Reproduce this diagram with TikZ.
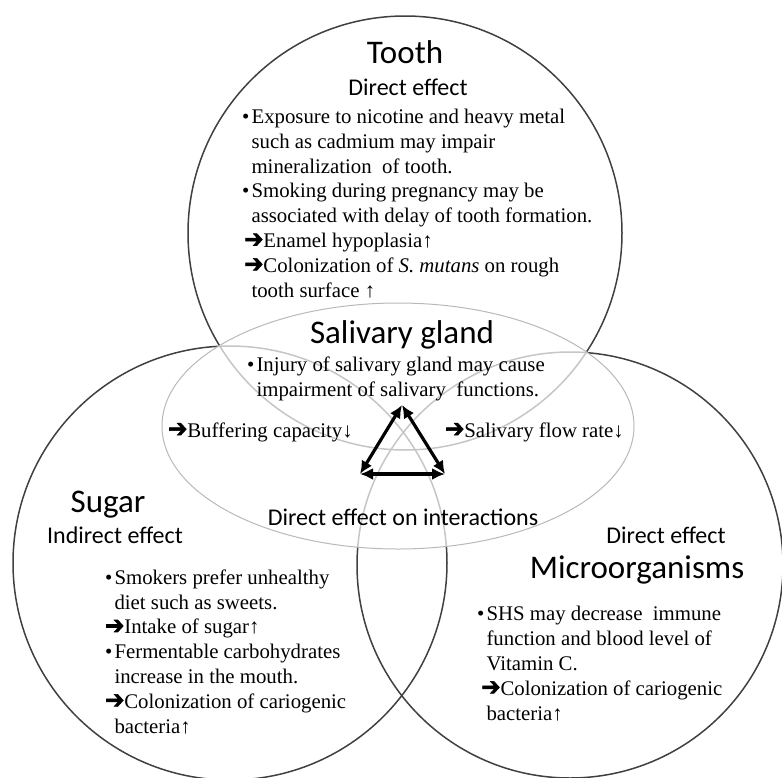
\documentclass[tikz,border=0pt]{standalone}
\usepackage{fontspec}
\setmainfont{Liberation Serif}
\newfontfamily\calibri{Carlito}
\newfontfamily\dingfont{DejaVu Sans}[FakeBold=2.5]
\usetikzlibrary{arrows.meta}
\newcommand{\thenarrow}{\scalebox{1.1}[1.2]{\dingfont ➔}}
\newcommand{\bulletitem}{\makebox[0.45em][l]{\textbullet}}
\newcommand{\contline}{\hspace*{0.45em}}

\begin{document}
\begin{tikzpicture}[x=1pt,y=-1pt,
    circ/.style={draw=black!75, line width=1.5pt},
    title/.style={font=\calibri\fontsize{33}{36}\selectfont, anchor=base, inner sep=0pt},
    effect/.style={font=\calibri\fontsize{24}{28}\selectfont, anchor=base, inner sep=0pt},
    body/.style={font=\fontsize{20.8}{24.8}\selectfont, anchor=base west, align=left, inner sep=0pt},
    link/.style={{Latex[length=13pt,width=12pt]}-{Latex[length=13pt,width=12pt]}, line width=3.2pt}]
    \useasboundingbox (0,0) rectangle (782,777);

    % Three circles
    \draw[circ] (405,233) circle (217pt);
    \draw[circ] (230,563) circle (217pt);
    \draw[circ] (570,565) circle (213pt);

    % Salivary gland on top of them
    \draw[gray!55, line width=1pt, fill=white, fill opacity=0.7] (398,426) ellipse (236pt and 123pt);

    % Tooth (base = last line)
    \node[title] (tooth) at (405,63) {Tooth};
    \node[effect] (toothfx) at (408,95) {Direct effect};
    \node[body] (toothtxt) at (242,297) {\bulletitem Exposure to nicotine and heavy metal\\
        \contline such as cadmium may impair\\
        \contline mineralization\ \ of tooth.\\
        \bulletitem Smoking during pregnancy may be\\
        \contline associated with delay of tooth formation.\\
        \hspace*{0.1em}\thenarrow Enamel hypoplasia↑\\
        \hspace*{0.1em}\thenarrow Colonization of \textit{S. mutans} on rough\\
        \contline tooth surface ↑};

    % Salivary gland
    \node[title] (gland) at (402,343) {Salivary gland};
    \node[body] (glandtxt) at (247,396) {\bulletitem Injury of salivary gland may cause\\
        \contline impairment of salivary\ \ functions.};
    \node[body] (buffer) at (168,437) {\thenarrow Buffering capacity↓};
    \node[body] (flow) at (445,437) {\thenarrow Salivary flow rate↓};
    \node[effect] (interact) at (403,525) {Direct effect on interactions};

    % Interactions
    \coordinate (apex) at (402,405);
    \coordinate (tipL) at (360,474);
    \coordinate (tipR) at (445,474);
    \draw[link] (apex) -- (tipL);
    \draw[link] (tipL) -- (tipR);
    \draw[link] (tipR) -- (apex);

    % Sugar
    \node[title] (sugar) at (108,512) {Sugar};
    \node[effect] (sugarfx) at (115,543) {Indirect effect};
    \node[body] (sugartxt) at (105,733) {\bulletitem Smokers prefer unhealthy\\
        \contline diet such as sweets.\\
        \thenarrow Intake of sugar↑\\
        \bulletitem Fermentable carbohydrates\\
        \contline increase in the mouth.\\
        \thenarrow Colonization of cariogenic\\
        \contline bacteria↑};

    % Microorganisms
    \node[effect] (microfx) at (666,543) {Direct effect};
    \node[title] (micro) at (637,578) {Microorganisms};
    \node[body] (microtxt) at (477,720) {\bulletitem SHS may decrease\ \ immune\\
        \contline function and blood level\ of\\
        \contline Vitamin C.\\
        \hspace*{0.2em}\thenarrow Colonization of cariogenic\\
        \contline bacteria↑};
\end{tikzpicture}
\end{document}
